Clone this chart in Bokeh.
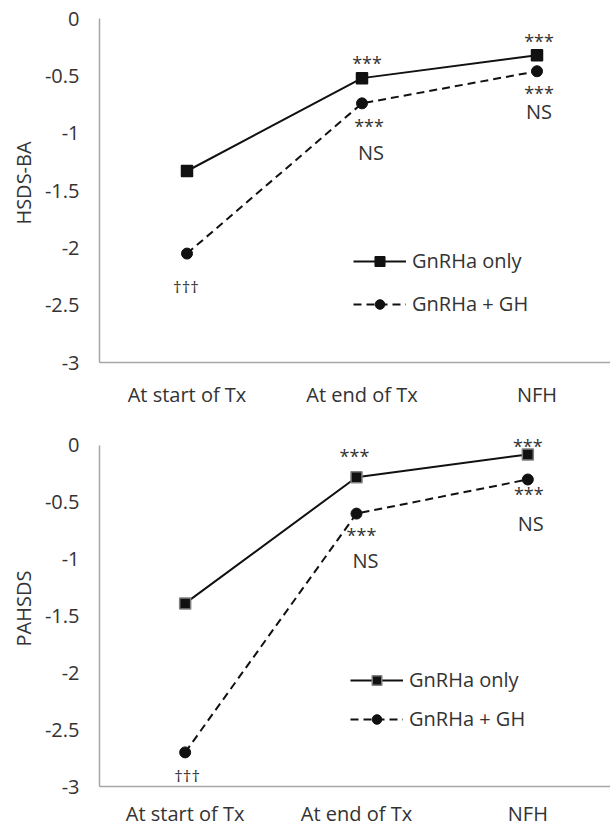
from bokeh.plotting import figure
from bokeh.models import FixedTicker, Legend, LegendItem, ColumnDataSource, LabelSet
from bokeh.layouts import column
from bokeh.embed import file_html
from bokeh.resources import INLINE
from bokeh.core.properties import value

# ---------------- data ----------------
categories = ["At start of Tx", "At end of Tx", "NFH"]
cat_x = [1, 2, 3]
y_ticks = [0, -0.5, -1, -1.5, -2, -2.5, -3]
y_tick_labels = ["0", "-0.5", "-1", "-1.5", "-2", "-2.5", "-3"]

series_names = ["GnRHa only", "GnRHa + GH"]

hsds_gnrha_only = [-1.33, -0.52, -0.32]
hsds_gnrha_gh = [-2.05, -0.74, -0.46]

pahsds_gnrha_only = [-1.39, -0.28, -0.08]
pahsds_gnrha_gh = [-2.70, -0.60, -0.30]

# annotations: text, category index, series (0 = only, 1 = +GH)
top_ann_text = ["***", "***", "***", "NS", "***", "NS", "\u2020\u2020\u2020"]
top_ann_cat = [1, 2, 1, 1, 2, 2, 0]
top_ann_series = [0, 0, 1, 1, 1, 1, 1]

bot_ann_text = ["***", "***", "***", "NS", "***", "NS", "\u2020\u2020\u2020"]
bot_ann_cat = [1, 2, 1, 1, 2, 2, 0]
bot_ann_series = [0, 0, 1, 1, 1, 1, 1]

# ---------------- styling ----------------
FONT = "Open Sans"
TXT = "#333333"
AX = "#a6a6a6"
PAD_PX = 15          # empty space above y = 0 inside the frame
FRAME_H = 344        # pixel height of the -3..0 span

# pixel offsets (screen: positive dy = downward)
top_ann_dy = [-15, -14, 23, 49, 22, 40, 33]
top_ann_dx = [5, 2, 7, 9, 2, 2, -1]
bot_ann_dy = [-21, -8, 21, 47, 15, 44, 23]
bot_ann_dx = [-2, 0, 5, 9, 1, 3, 2]
ann_sizes = {"***": "18px", "NS": "20px", "\u2020\u2020\u2020": "17px"}


def make_chart(title, only_vals, gh_vals, ann_text, ann_cat, ann_series, ann_dx, ann_dy,
               height, b_left, b_top, b_bottom, spacing_px, label_standoff,
               legend_loc, legend_spacing, sq_line):
    y_end = PAD_PX * 3.0 / FRAME_H
    x_end = 0.5 + (610 - b_left) / spacing_px
    p = figure(width=610, height=height, output_backend="svg", toolbar_location=None,
               x_range=(0.5, x_end), y_range=(-3, y_end),
               min_border_left=b_left, min_border_right=0,
               min_border_top=b_top, min_border_bottom=b_bottom)
    p.outline_line_color = None
    p.xgrid.visible = False
    p.ygrid.visible = False
    p.background_fill_color = "white"
    p.border_fill_color = "white"

    # axes
    p.xaxis.ticker = FixedTicker(ticks=cat_x)
    p.xaxis.major_label_overrides = {x: c for x, c in zip(cat_x, categories)}
    p.yaxis.ticker = FixedTicker(ticks=y_ticks)
    p.yaxis.major_label_overrides = {t: l for t, l in zip(y_ticks, y_tick_labels)}
    p.yaxis.bounds = (-3, 0)
    for ax in (p.xaxis, p.yaxis):
        ax.axis_line_color = AX
        ax.axis_line_width = 1.5
        ax.major_tick_line_color = None
        ax.minor_tick_line_color = None
        ax.major_tick_out = 0
        ax.major_tick_in = 0
        ax.minor_tick_out = 0
        ax.minor_tick_in = 0
        ax.major_label_text_font = FONT
        ax.major_label_text_font_size = "20px"
        ax.major_label_text_color = TXT
    p.xaxis.major_label_standoff = label_standoff
    p.yaxis.major_label_standoff = 20
    p.yaxis.axis_label = title
    p.yaxis.axis_label_text_font = FONT
    p.yaxis.axis_label_text_font_size = "20px"
    p.yaxis.axis_label_text_font_style = "normal"
    p.yaxis.axis_label_text_color = TXT
    p.yaxis.axis_label_standoff = 5

    # series
    l1 = p.line(cat_x, only_vals, line_color="#111111", line_width=2)
    s1 = p.scatter(cat_x, only_vals, marker="square", size=11,
                   fill_color="#111111", line_color=sq_line, line_width=1.5)
    l2 = p.line(cat_x, gh_vals, line_color="#111111", line_width=2, line_dash="8 5")
    s2 = p.scatter(cat_x, gh_vals, marker="circle", size=11,
                   fill_color="#111111", line_color="#111111")

    legend = Legend(items=[LegendItem(label=series_names[0], renderers=[l1, s1]),
                           LegendItem(label=series_names[1], renderers=[l2, s2])],
                    location=legend_loc, orientation="vertical")
    legend.border_line_color = None
    legend.background_fill_alpha = 0
    legend.padding = 0
    legend.margin = 0
    legend.spacing = legend_spacing
    legend.glyph_width = 53
    legend.glyph_height = 24
    legend.label_height = 24
    legend.label_standoff = 6
    legend.label_text_font = FONT
    legend.label_text_font_size = "20px"
    legend.label_text_color = TXT
    p.add_layout(legend, "center")

    # annotations (positive LabelSet y_offset = up)
    vals = [only_vals, gh_vals]
    src = ColumnDataSource(dict(
        x=[cat_x[c] for c in ann_cat],
        y=[vals[s][c] for s, c in zip(ann_series, ann_cat)],
        text=ann_text,
        dx=ann_dx,
        dy=[-d for d in ann_dy],
        size=[ann_sizes[t] for t in ann_text],
    ))
    labels = LabelSet(x="x", y="y", text="text", x_offset="dx", y_offset="dy", source=src,
                      text_font=value(FONT), text_font_size="size", text_color=TXT,
                      text_align="center", text_baseline="middle")
    p.add_layout(labels)
    return p


p1 = make_chart("HSDS-BA", hsds_gnrha_only, hsds_gnrha_gh,
                top_ann_text, top_ann_cat, top_ann_series, top_ann_dx, top_ann_dy,
                height=410, b_left=99, b_top=18 - PAD_PX, b_bottom=48,
                spacing_px=175, label_standoff=18,
                legend_loc=(254, 45), legend_spacing=16, sq_line="#111111")

p2 = make_chart("PAHSDS", pahsds_gnrha_only, pahsds_gnrha_gh,
                bot_ann_text, bot_ann_cat, bot_ann_series, bot_ann_dx, bot_ann_dy,
                height=419, b_left=97, b_top=35 - PAD_PX, b_bottom=40,
                spacing_px=172, label_standoff=13,
                legend_loc=(251, 54), legend_spacing=12, sq_line="#808080")

layout = column(p1, p2, spacing=0)

with open("out.html", "w") as f:
    f.write(file_html(layout, INLINE))
